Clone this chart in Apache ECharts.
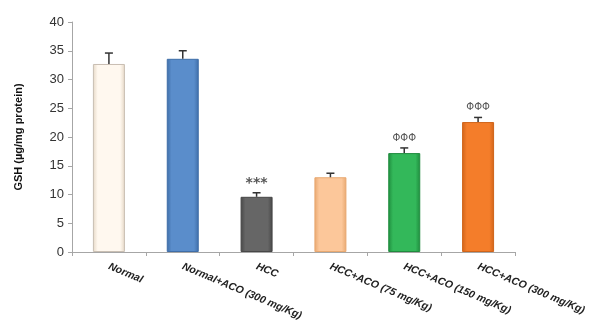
<!DOCTYPE html>
<html>
<head>
<meta charset="utf-8">
<script src="https://cdn.jsdelivr.net/npm/echarts@6/dist/echarts.min.js"></script>
<style>
html,body{margin:0;padding:0;background:#fff;}
#chart{width:593px;height:324px;}
</style>
</head>
<body>
<div id="chart"></div>
<script>
var categories = ['Normal', 'Normal+ACO (300 mg/Kg)', 'HCC', 'HCC+ACO (75 mg/Kg)', 'HCC+ACO (150 mg/Kg)', 'HCC+ACO (300 mg/Kg)'];
var means = [32.7, 33.6, 9.6, 13.0, 17.2, 22.6];
var errors = [1.9, 1.4, 0.7, 0.7, 0.9, 0.8];
var marks = ['', '', '***', '', 'ΦΦΦ', 'ΦΦΦ'];
var yTicks = [0, 5, 10, 15, 20, 25, 30, 35, 40];

// bar colours: [edge, middle]
var colors = [
	['#e6d8c6', '#fff8ef'],
	['#3f6ea8', '#5a8dcb'],
	['#474747', '#666666'],
	['#e8a870', '#fcc79a'],
	['#1f8c3e', '#33b85a'],
	['#d0641a', '#f47d2a']
];

var myChart = echarts.init(document.getElementById('chart'));

var barData = [];
for (var i = 0; i < means.length; i++) {
	barData.push({
		value: means[i],
		itemStyle: {
			color: new echarts.graphic.LinearGradient(0, 0, 1, 0, [
				{offset: 0, color: colors[i][0]},
				{offset: 0.15, color: colors[i][1]},
				{offset: 0.85, color: colors[i][1]},
				{offset: 1, color: colors[i][0]}
			]),
			borderColor: i == 0 ? '#c9bfb3' : colors[i][0],
			borderWidth: 1
		}
	});
}

var errData = [];
for (var i = 0; i < means.length; i++) {
	errData.push([i, means[i], errors[i], marks[i]]);
}

var option = {
	animation: false,
	grid: {left: 72, right: 78, top: 22, bottom: 72},
	xAxis: {
		type: 'category',
		data: categories,
		axisLine: {lineStyle: {color: '#a6a6a6', width: 1}},
		axisTick: {show: true, length: 4, lineStyle: {color: '#a6a6a6'}},
		axisLabel: {
			interval: 0,
			rotate: -23,
			margin: 14,
			fontFamily: 'Liberation Sans',
			fontSize: 10.5,
			fontWeight: 'bold',
			fontStyle: 'italic',
			color: '#222'
		}
	},
	yAxis: {
		type: 'value',
		min: yTicks[0],
		max: yTicks[yTicks.length - 1],
		interval: 5,
		name: 'GSH (µg/mg protein)',
		nameLocation: 'middle',
		nameGap: 48,
		nameTextStyle: {fontFamily: 'Liberation Sans', fontSize: 11, fontWeight: 'bold', color: '#111'},
		splitLine: {show: false},
		axisLine: {show: true, lineStyle: {color: '#a6a6a6'}},
		axisTick: {show: true, length: 4, lineStyle: {color: '#a6a6a6'}},
		axisLabel: {fontFamily: 'Liberation Sans', fontSize: 13, color: '#333', margin: 8}
	},
	series: [
		{
			type: 'bar',
			barWidth: 32,
			data: barData
		},
		{
			type: 'custom',
			data: errData,
			z: 10,
			renderItem: function(params, api) {
				var idx = api.value(0);
				var m = api.value(1);
				var e = api.value(2);
				var mark = errData[params.dataIndex][3];
				var base = api.coord([idx, m]);
				var top = api.coord([idx, m + e]);
				var children = [
					{type: 'line', shape: {x1: base[0], y1: base[1], x2: top[0], y2: top[1]}, style: {stroke: '#333', lineWidth: 1.5}},
					{type: 'line', shape: {x1: top[0] - 4, y1: top[1], x2: top[0] + 4, y2: top[1]}, style: {stroke: '#333', lineWidth: 1.5}}
				];
				if (mark) {
					children.push({
						type: 'text',
						style: {
							text: mark,
							x: top[0],
							y: mark == '***' ? top[1] - 2 : top[1] - 5,
							align: 'center',
							verticalAlign: 'bottom',
							font: mark == '***' ? 'bold 14px "DejaVu Sans"' : '10px "DejaVu Sans"',
							fill: '#555'
						}
					});
				}
				return {type: 'group', children: children};
			}
		}
	]
};
myChart.setOption(option);
</script>
</body>
</html>
